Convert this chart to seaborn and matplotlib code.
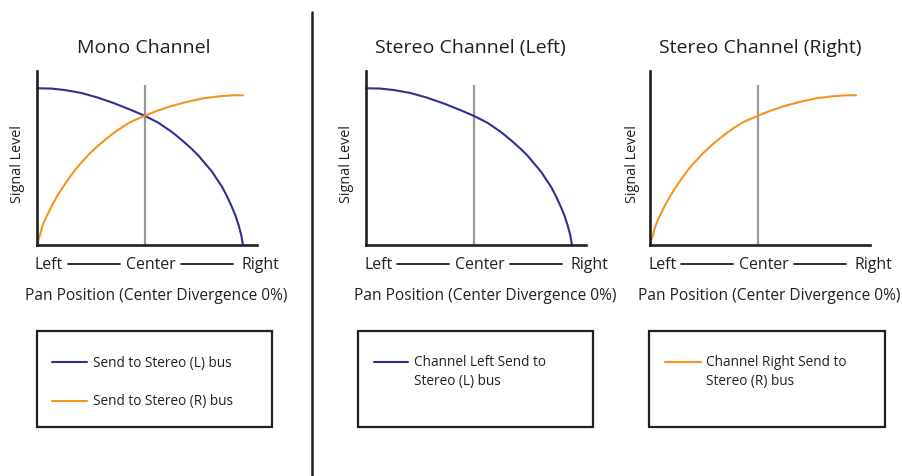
import matplotlib
matplotlib.use("Agg")
import matplotlib.pyplot as plt
from matplotlib.lines import Line2D
from matplotlib.patches import Rectangle
import seaborn as sns
import pandas as pd

# ---- data ----
send_left_x = [0.0, 0.068, 0.133, 0.215, 0.296, 0.377, 0.459, 0.525, 0.589,
               0.654, 0.686, 0.719, 0.751, 0.784, 0.816, 0.849, 0.873, 0.898,
               0.922, 0.946, 0.963, 0.979, 0.992, 1.0]
send_left_y = [1.0, 0.998, 0.989, 0.970, 0.940, 0.903, 0.860, 0.823, 0.780,
               0.722, 0.688, 0.651, 0.613, 0.570, 0.520, 0.469, 0.421, 0.372,
               0.312, 0.243, 0.189, 0.125, 0.060, 0.0]
send_right_x = [0.0, 0.008, 0.016, 0.024, 0.040, 0.056, 0.072, 0.088, 0.104,
                0.128, 0.152, 0.184, 0.216, 0.256, 0.296, 0.336, 0.376, 0.416,
                0.456, 0.487, 0.517, 0.550, 0.584, 0.648, 0.728, 0.808, 0.888,
                0.952, 1.0]
send_right_y = [0.0, 0.038, 0.070, 0.113, 0.166, 0.208, 0.251, 0.289, 0.325,
                0.374, 0.420, 0.478, 0.527, 0.584, 0.633, 0.677, 0.718, 0.754,
                0.786, 0.804, 0.820, 0.839, 0.856, 0.885, 0.913, 0.936, 0.949,
                0.955, 0.955]
center_pos = 0.525
center_top = 1.02

titles = ["Mono Channel", "Stereo Channel (Left)", "Stereo Channel (Right)"]
y_label = "Signal Level"
x_label = "Pan Position (Center Divergence 0%)"
pos_labels = ["Left", "Center", "Right"]
legend_texts = [
    ["Send to Stereo (L) bus", "Send to Stereo (R) bus"],
    ["Channel Left Send to", "Stereo (L) bus"],
    ["Channel Right Send to", "Stereo (R) bus"],
]

BLUE = "#2e3192"
ORANGE = "#f7941e"
INK = "#231f20"
GRAY = "#9a9a9a"

left_df = pd.DataFrame({"pan": send_left_x, "level": send_left_y})
right_df = pd.DataFrame({"pan": send_right_x, "level": send_right_y})

sns.set_style("white")
plt.rcParams["font.family"] = ["Open Sans", "DejaVu Sans"]

W, H = 902, 476
fig = plt.figure(figsize=(W / 100, H / 100), dpi=100)


def fx(x):
    return x / W


def fy(y):
    return 1 - y / H


axis_left = [37, 366, 650]
axis_w, axis_top, axis_bottom = 220, 71, 245
title_cx = [143.5, 470, 760]
ylab_x = [18, 347, 632]
series = [["L", "R"], ["L"], ["R"]]
LEG_FS = 9.8

for i in range(3):
    L = axis_left[i]
    ax = fig.add_axes([fx(L), fy(axis_bottom), axis_w / W, (axis_bottom - axis_top) / H])
    ax.set_xlim(0, 1.068)
    ax.set_ylim(0, 1.11)
    ax.vlines(center_pos, 0, center_top, color=GRAY, lw=1.6, zorder=1)
    for s in series[i]:
        df = left_df if s == "L" else right_df
        col = BLUE if s == "L" else ORANGE
        sns.lineplot(data=df, x="pan", y="level", ax=ax, color=col, lw=1.5,
                     sort=False, zorder=3, clip_on=False)
    ax.set_xticks([])
    ax.set_yticks([])
    ax.set_xlabel("")
    ax.set_ylabel("")
    for side in ["top", "right"]:
        ax.spines[side].set_visible(False)
    for side in ["left", "bottom"]:
        ax.spines[side].set_color(INK)
        ax.spines[side].set_linewidth(1.9)
        ax.spines[side].set_zorder(4)

    # title and axis texts
    fig.text(fx(title_cx[i]), fy(48), titles[i], ha="center", va="center",
             fontsize=14, color=INK)
    fig.text(fx(ylab_x[i]), fy(164), y_label, ha="center", va="center",
             rotation=90, fontsize=10.4, color=INK)
    fig.text(fx(L - 2), fy(265), pos_labels[0], ha="left", va="center",
             fontsize=11.4, color=INK)
    fig.text(fx(L + 113.5), fy(265), pos_labels[1], ha="center", va="center",
             fontsize=11.4, color=INK)
    fig.text(fx(L + 242), fy(265), pos_labels[2], ha="right", va="center",
             fontsize=11.4, color=INK)
    for a, b in [(31, 83), (144, 196)]:
        fig.add_artist(Line2D([fx(L + a), fx(L + b)], [fy(264), fy(264)],
                              color=INK, lw=1.3))
    fig.text(fx(L + 119.5), fy(296), x_label, ha="center", va="center",
             fontsize=11.2, color=INK)

# legend boxes
boxes = [(37, 272), (358, 593), (649, 885)]
for (x0, x1) in boxes:
    fig.add_artist(Rectangle((fx(x0), fy(427)), (x1 - x0) / W, (427 - 331) / H,
                             fill=False, edgecolor=INK, lw=1.6))

# mono legend
fig.add_artist(Line2D([fx(52), fx(87)], [fy(362), fy(362)], color=BLUE, lw=1.5))
fig.text(fx(93), fy(363), legend_texts[0][0], ha="left", va="center", fontsize=LEG_FS, color=INK)
fig.add_artist(Line2D([fx(52), fx(87)], [fy(401), fy(401)], color=ORANGE, lw=1.5))
fig.text(fx(93), fy(402), legend_texts[0][1], ha="left", va="center", fontsize=LEG_FS, color=INK)
# stereo left legend
fig.add_artist(Line2D([fx(374), fx(408)], [fy(362), fy(362)], color=BLUE, lw=1.5))
fig.text(fx(414), fy(363), legend_texts[1][0], ha="left", va="center", fontsize=LEG_FS, color=INK)
fig.text(fx(414), fy(382), legend_texts[1][1], ha="left", va="center", fontsize=LEG_FS, color=INK)
# stereo right legend
fig.add_artist(Line2D([fx(665), fx(701)], [fy(362), fy(362)], color=ORANGE, lw=1.5))
fig.text(fx(706), fy(363), legend_texts[2][0], ha="left", va="center", fontsize=LEG_FS, color=INK)
fig.text(fx(706), fy(382), legend_texts[2][1], ha="left", va="center", fontsize=LEG_FS, color=INK)

# divider
fig.add_artist(Line2D([fx(312), fx(312)], [fy(12), fy(476)], color=INK, lw=1.8))

fig.savefig("out.png", dpi=100, facecolor="white")
